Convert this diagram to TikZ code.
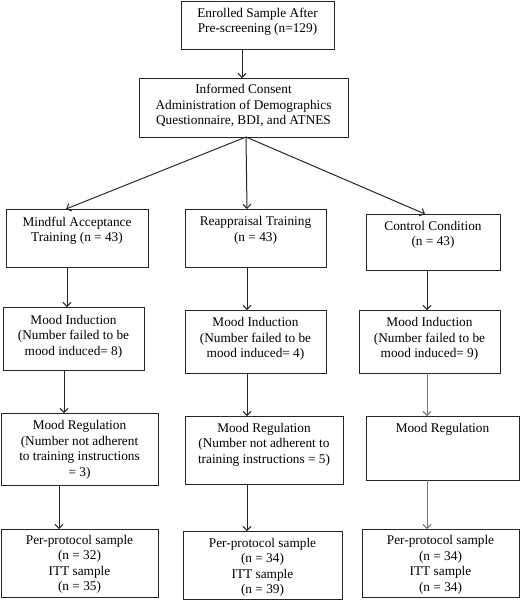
\documentclass[tikz,border=0pt]{standalone}
\usepackage{fontspec}
\setmainfont{Liberation Serif}
\newfontfamily\tms{Liberation Serif}
\usetikzlibrary{arrows.meta}
\tikzset{
  box/.style={draw=black!85, line width=1pt, inner sep=0pt, outer sep=0pt},
  txt/.style={align=center, inner sep=0pt, font=\tms\fontsize{13.3}{15.5}\selectfont, text=black},
  arr/.style={draw=black!85, line width=1pt, -{Straight Barb[length=4pt,width=8pt]}},
  garr/.style={arr, draw=black!55},
}
\newcommand\mybox[7]{%
  \node[box, minimum width={(#4-#2)*1pt}, minimum height={(#5-#3)*1pt}] (#1) at ({(#2+#4)/2},{(#3+#5)/2}) {};
  \node[txt] (#1t) at ({(#2+#4)/2},#6) {#7};
}
\begin{document}
\begin{tikzpicture}[x=1pt,y=-1pt]
\useasboundingbox (0,0) rectangle (520,600);
\mybox{T}{181}{1}{334}{49}{22}{Enrolled Sample After\\Pre-screening (n=129)}
\mybox{C}{139}{78}{348}{137}{105.5}{Informed Consent\\Administration of Demographics\\Questionnaire, BDI, and ATNES}
\mybox{L1}{6}{209}{148}{267}{230.5}{Mindful Acceptance\\Training (n = 43)}
\mybox{M1}{185}{209}{326}{267}{230.5}{Reappraisal Training\\(n = 43)}
\mybox{R1}{366}{214}{500}{270}{235}{Control Condition\\(n = 43)}
\mybox{L2}{3}{307}{144}{370}{336.5}{Mood Induction\\(Number failed to be\\mood induced= 8)}
\mybox{M2}{185}{310}{326}{373}{339}{Mood Induction\\(Number failed to be\\mood induced= 4)}
\mybox{R2}{359}{310}{500}{373}{339}{Mood Induction\\(Number failed to be\\mood induced= 9)}
\mybox{L3}{1}{413}{158}{485}{450}{Mood Regulation\\(Number not adherent\\to training instructions\\= 3)}
\mybox{M3}{185}{416}{343}{484}{444.5}{Mood Regulation\\(Number not adherent to\\training instructions = 5)}
\mybox{R3}{366}{416}{519}{480}{429}{Mood Regulation}
\mybox{L4}{1}{529}{158}{597}{564.5}{Per-protocol sample\\(n = 32)\\ITT sample\\(n = 35)}
\mybox{M4}{183}{531}{342}{599}{567.5}{Per-protocol sample\\(n = 34)\\ITT sample\\(n = 39)}
\mybox{R4}{362}{529}{519}{597}{565}{Per-protocol sample\\(n = 34)\\ITT sample\\(n = 34)}
\coordinate (xT) at (242,0);
\coordinate (xL1) at (67,0);
\coordinate (xL2) at (64,0);
\coordinate (xL3) at (59,0);
\coordinate (xM) at (247,0);
\coordinate (xR) at (427,0);
\coordinate (fan) at (246,0);
\coordinate (tL) at (66,0);
\coordinate (tR) at (425,0);
\draw[arr] (T.south -| xT) -- (C.north -| xT);
\draw[arr] (C.south -| fan) -- (L1.north -| tL);
\draw[arr] (C.south -| fan) -- (M1.north -| xM);
\draw[arr] (C.south -| fan) -- (R1.north -| tR);
\draw[arr] (L1.south -| xL1) -- (L2.north -| xL1);
\draw[arr] (L2.south -| xL2) -- (L3.north -| xL2);
\draw[arr] (L3.south -| xL3) -- (L4.north -| xL3);
\draw[arr] (M1.south -| xM) -- (M2.north -| xM);
\draw[arr] (M2.south -| xM) -- (M3.north -| xM);
\draw[arr] (M3.south -| xM) -- (M4.north -| xM);
\draw[arr] (R1.south -| xR) -- (R2.north -| xR);
\draw[garr] (R2.south -| xR) -- (R3.north -| xR);
\draw[garr] (R3.south -| xR) -- (R4.north -| xR);
\end{tikzpicture}
\end{document}
